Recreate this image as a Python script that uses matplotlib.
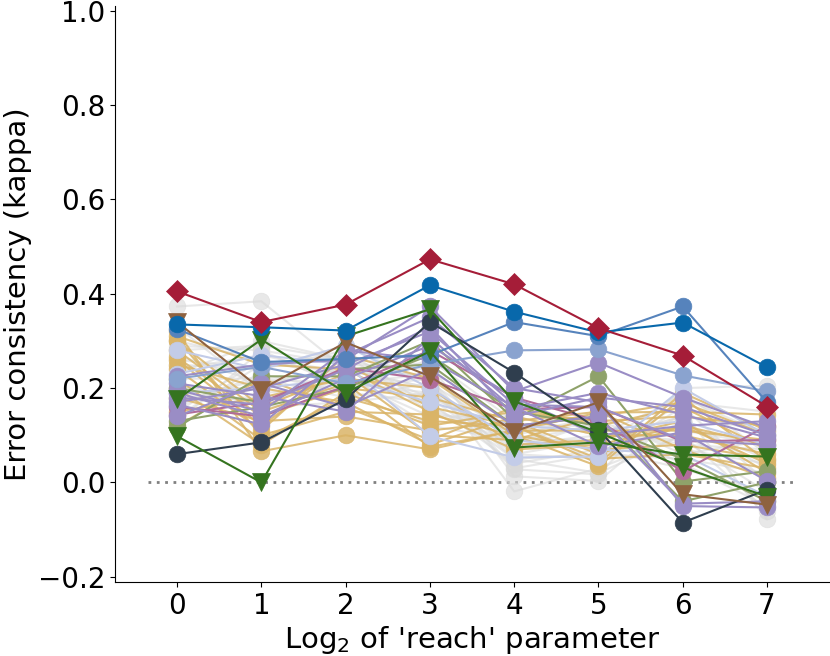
import numpy as np
import matplotlib
matplotlib.use("Agg")
import matplotlib.pyplot as plt

# log2 of the 'reach' parameter
reach = [0, 1, 2, 3, 4, 5, 6, 7]

# background models (grey)
grey_models = [
    [0.373, 0.384, 0.24, 0.20, 0.028, 0.017, 0.20, 0.205],
    [0.28, 0.29, 0.26, 0.25, 0.013, 0.003, 0.15, -0.078],
    [0.127, 0.28, 0.20, 0.22, -0.019, 0.03, 0.10, -0.06],
    [0.30, 0.26, 0.22, 0.18, 0.05, 0.06, 0.05, 0.02],
    [0.26, 0.24, 0.28, 0.16, 0.08, 0.10, 0.18, 0.10],
    [0.22, 0.22, 0.18, 0.21, 0.10, 0.08, 0.12, 0.05],
    [0.20, 0.20, 0.25, 0.24, 0.12, 0.12, 0.08, 0.07],
    [0.18, 0.18, 0.21, 0.19, 0.06, 0.05, 0.16, 0.00],
    [0.24, 0.27, 0.23, 0.23, 0.09, 0.09, 0.14, 0.12],
    [0.16, 0.23, 0.19, 0.17, 0.04, 0.07, 0.03, -0.03],
    [0.14, 0.25, 0.27, 0.15, 0.11, 0.11, 0.11, 0.08],
    [0.27, 0.21, 0.24, 0.20, 0.07, 0.13, 0.07, 0.04],
    [0.33, 0.19, 0.20, 0.26, 0.13, 0.04, 0.13, 0.03],
    [0.23, 0.30, 0.26, 0.22, 0.03, 0.06, 0.17, 0.15],
    [0.19, 0.17, 0.22, 0.14, 0.14, 0.10, 0.09, -0.02],
    [0.21, 0.16, 0.17, 0.19, 0.08, 0.08, 0.19, 0.06],
    [0.29, 0.28, 0.25, 0.18, 0.10, 0.14, 0.06, 0.09],
    [0.25, 0.24, 0.29, 0.21, 0.05, 0.02, 0.10, 0.01],
    [0.17, 0.22, 0.21, 0.23, 0.06, 0.09, 0.14, 0.11],
    [0.15, 0.26, 0.23, 0.12, 0.09, 0.12, 0.04, -0.05],
]

tan_models = [
    [0.32, 0.066, 0.10, 0.07, 0.11, 0.148, 0.15, 0.144],
    [0.303, 0.10, 0.15, 0.144, 0.10, 0.034, 0.18, 0.045],
    [0.265, 0.14, 0.20, 0.18, 0.13, 0.06, 0.12, 0.08],
    [0.25, 0.20, 0.17, 0.08, 0.14, 0.10, 0.10, 0.06],
    [0.30, 0.16, 0.23, 0.10, 0.09, 0.14, 0.17, 0.10],
    [0.26, 0.12, 0.25, 0.16, 0.12, 0.05, 0.06, 0.03],
    [0.20, 0.08, 0.19, 0.12, 0.15, 0.13, 0.14, 0.12],
    [0.15, 0.18, 0.22, 0.20, 0.08, 0.09, 0.13, 0.02],
    [0.12, 0.22, 0.16, 0.09, 0.16, 0.12, 0.16, 0.07],
    [0.24, 0.11, 0.27, 0.22, 0.10, 0.07, 0.08, 0.05],
    [0.28, 0.15, 0.21, 0.075, 0.11, 0.11, 0.11, 0.09],
    [0.22, 0.09, 0.18, 0.13, 0.12, 0.04, 0.19, 0.11],
    [0.18, 0.13, 0.14, 0.11, 0.13, 0.15, 0.07, 0.01],
    [0.31, 0.25, 0.24, 0.15, 0.07, 0.08, 0.12, 0.04],
]

pale_models = [
    [0.23, 0.27, 0.25, 0.098, 0.053, 0.055, 0.20, 0.10],
    [0.19, 0.20, 0.22, 0.17, 0.12, 0.11, 0.13, 0.08],
    [0.28, 0.24, 0.29, 0.20, 0.09, 0.07, 0.06, -0.03],
]

sage_models = [
    [0.117, 0.225, 0.225, 0.30, 0.134, 0.225, 0.002, 0.024],
    [0.13, 0.16, 0.20, 0.27, 0.15, 0.12, 0.05, -0.04],
    [0.20, 0.17, 0.24, 0.25, 0.12, 0.14, -0.04, 0.00],
]

mauve_models = [
    [0.144, 0.17, 0.243, 0.218, 0.155, 0.16, 0.087, 0.09],
    [0.16, 0.14, 0.204, 0.28, 0.18, 0.13, 0.024, 0.12],
]

purple_models = [
    [0.225, 0.25, 0.26, 0.373, 0.193, 0.254, 0.18, 0.116],
    [0.21, 0.183, 0.15, 0.307, 0.155, 0.19, 0.144, 0.095],
    [0.197, 0.15, 0.28, 0.26, 0.16, 0.077, 0.106, 0.003],
    [0.165, 0.123, 0.27, 0.35, 0.20, 0.17, -0.05, -0.053],
    [0.18, 0.165, 0.24, 0.33, 0.14, 0.18, 0.16, 0.10],
    [0.19, 0.14, 0.22, 0.29, 0.18, 0.10, 0.12, 0.13],
    [0.14, 0.21, 0.16, 0.24, 0.12, 0.14, -0.045, -0.04],
    [0.17, 0.20, 0.25, 0.32, 0.165, 0.16, 0.09, 0.08],
]

light_steel = [0.22, 0.245, 0.21, 0.25, 0.28, 0.282, 0.227, 0.193]
steel = [0.325, 0.255, 0.262, 0.27, 0.34, 0.31, 0.373, 0.17]
dark = [0.06, 0.085, 0.176, 0.34, 0.233, 0.112, -0.085, -0.015]
green_a = [0.098, 0.0, 0.31, 0.367, 0.172, 0.106, 0.032, -0.03]
green_b = [0.176, 0.303, 0.19, 0.278, 0.074, 0.085, 0.059, 0.055]
brown = [0.34, 0.197, 0.297, 0.225, 0.108, 0.17, -0.025, -0.047]
blue = [0.335, 0.329, 0.322, 0.418, 0.362, 0.318, 0.339, 0.244]
red = [0.405, 0.34, 0.377, 0.473, 0.42, 0.327, 0.269, 0.161]

fig, ax = plt.subplots(figsize=(8.3, 6.56), dpi=100)
fig.subplots_adjust(left=0.1386, right=0.9988, bottom=0.1128, top=0.9909)


def draw(vals, color, marker="o", ms=12, lw=1.5, alpha=1.0, z=2):
    ax.plot(reach, vals, color=color, marker=marker, markersize=ms,
            linewidth=lw, alpha=alpha, markeredgecolor=color,
            markeredgewidth=0.5, zorder=z)


ax.hlines(0, -0.35, 7.35, colors="grey", linestyles=(0, (1, 2)),
          linewidth=2, zorder=1)

for v in grey_models:
    draw(v, "#d9d9d9", alpha=0.6, z=2)
for v in tan_models:
    draw(v, "#dab467", alpha=0.85, z=3)
for v in pale_models:
    draw(v, "#c3cce8", z=3)
for v in sage_models:
    draw(v, "#8fa26a", z=3)
for v in mauve_models:
    draw(v, "#b06c9a", z=3)
for v in purple_models:
    draw(v, "#9a8dc5", z=4)

draw(light_steel, "#8aa3cf", z=5)
draw(steel, "#5683bc", z=5)
draw(dark, "#2f3e4e", z=6)
draw(green_a, "#35741f", marker="v", ms=13, z=6)
draw(green_b, "#35741f", marker="v", ms=13, z=6)
draw(brown, "#8e6240", marker="v", ms=13, z=6)
draw(blue, "#0868ab", z=7)
draw(red, "#a51d38", marker="D", ms=11, z=8)

ax.set_xlim(-0.736, 7.735)
ax.set_ylim(-0.211, 1.01)
ax.set_xticks(reach)
ax.set_yticks([-0.2, 0.0, 0.2, 0.4, 0.6, 0.8, 1.0])
ax.tick_params(labelsize=20)
ax.set_xlabel("Log$_2$ of 'reach' parameter", fontsize=21, labelpad=3)
ax.set_ylabel("Error consistency (kappa)", fontsize=21, labelpad=4)
ax.spines["top"].set_visible(False)
ax.spines["right"].set_visible(False)

plt.savefig("out.png", dpi=100)
